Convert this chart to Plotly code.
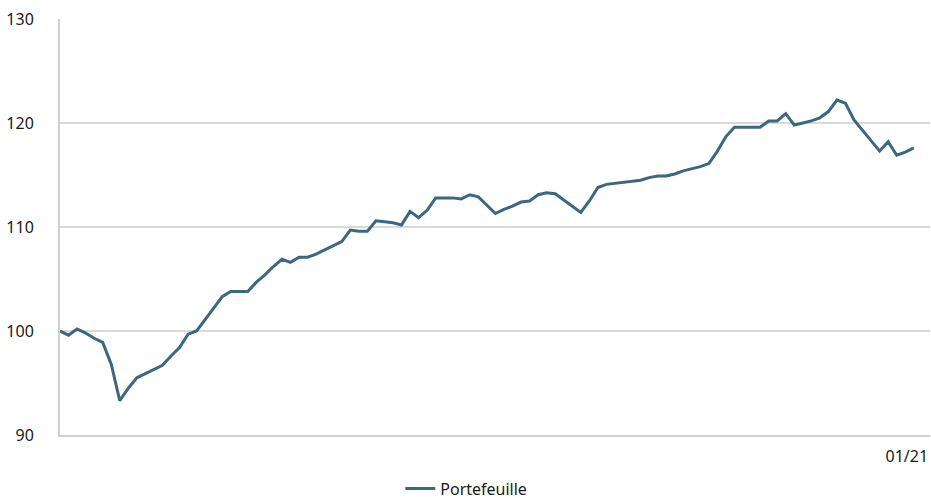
import plotly.graph_objects as go

weeks = list(range(101))
portefeuille = [
    100.0, 99.6, 100.2, 99.8, 99.3, 98.9, 96.8, 93.3, 94.5, 95.5,
    95.9, 96.3, 96.7, 97.6, 98.4, 99.7, 100.0, 101.1, 102.2, 103.3,
    103.8, 103.8, 103.8, 104.7, 105.4, 106.2, 106.9, 106.6, 107.1, 107.1,
    107.4, 107.8, 108.2, 108.6, 109.7, 109.6, 109.6, 110.6, 110.5, 110.4,
    110.2, 111.5, 110.9, 111.6, 112.8, 112.8, 112.8, 112.7, 113.1, 112.9,
    112.1, 111.3, 111.7, 112.0, 112.4, 112.5, 113.1, 113.3, 113.2, 112.6,
    112.0, 111.4, 112.5, 113.8, 114.1, 114.2, 114.3, 114.4, 114.5, 114.75,
    114.9, 114.9, 115.1, 115.4, 115.6, 115.8, 116.1, 117.3, 118.7, 119.6,
    119.6, 119.6, 119.6, 120.2, 120.2, 120.9, 119.8, 120.0, 120.2, 120.5,
    121.1, 122.2, 121.9, 120.3, 119.3, 118.3, 117.3, 118.2, 116.9, 117.2,
    117.6,
]
x_tick_labels = ["01/21"]
y_ticks = [90, 100, 110, 120, 130]

fig = go.Figure()
fig.add_trace(go.Scatter(
    x=weeks, y=portefeuille, mode="lines", name="Portefeuille",
    line=dict(color="#3a6880", width=3),
))

fig.update_layout(
    width=931, height=498, autosize=False,
    margin=dict(l=60, r=1, t=19, b=63, autoexpand=False),
    paper_bgcolor="white", plot_bgcolor="white",
    font=dict(family="Noto Sans", size=16, color="#1a1a1a"),
    showlegend=True,
    legend=dict(orientation="h", x=0.467, xanchor="center",
                y=-0.088, yanchor="top", borderwidth=0,
                font=dict(size=16)),
    xaxis=dict(range=[0, 101.9], tickvals=[weeks[-1]], ticktext=x_tick_labels,
               showgrid=False, zeroline=False, showline=True,
               linecolor="#d0d0d0", linewidth=2, ticks="",
               ticklabelstandoff=6, ticklabelshift=-7,
               ticklabeloverflow="allow", automargin=False),
    yaxis=dict(range=[90, 130], tickvals=y_ticks, showgrid=True,
               gridcolor="#d9d9d9", gridwidth=1.5, zeroline=False,
               showline=True, linecolor="#d0d0d0", linewidth=2,
               ticks="", ticklabelstandoff=21, automargin=False),
)

fig.write_html("out.html",
               config={"displayModeBar": False},
               post_script="document.body.style.margin='0';"
                           "document.body.style.overflow='hidden';")
